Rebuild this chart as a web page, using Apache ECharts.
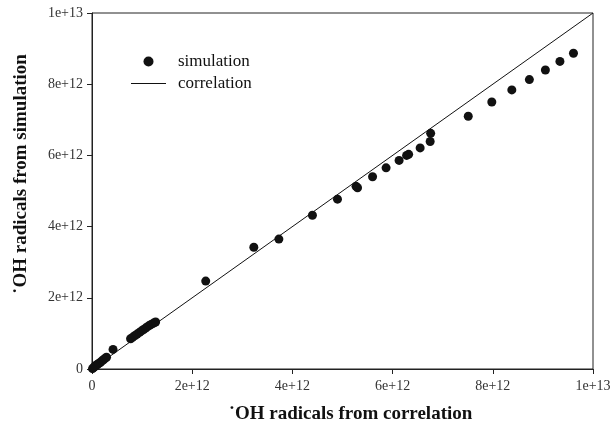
<!DOCTYPE html>
<html>
<head>
<meta charset="utf-8">
<script src="https://cdn.jsdelivr.net/npm/echarts@6/dist/echarts.min.js"></script>
<style>
  html, body { margin: 0; padding: 0; background: #fff; }
  #chart { width: 616px; height: 429px; }
</style>
</head>
<body>
<div id="chart"></div>
<script>
// values in units of 1e12 radicals
var SCALE = 1e12;
var simX = [0.01, 0.03, 0.05, 0.07, 0.09, 0.11, 0.14, 0.17, 0.20, 0.23, 0.26, 0.29,
            0.42,
            0.77, 0.81, 0.86, 0.90, 0.95, 0.99, 1.03, 1.07, 1.11, 1.15, 1.19, 1.23, 1.27,
            2.27, 3.23, 3.73, 4.40, 4.90, 5.27, 5.30, 5.60, 5.87, 6.13, 6.28, 6.32,
            6.55, 6.75, 6.76, 7.51, 7.98, 8.38, 8.73, 9.05, 9.34, 9.61];
var simY = [0.01, 0.04, 0.06, 0.09, 0.11, 0.13, 0.16, 0.19, 0.23, 0.26, 0.30, 0.33,
            0.55,
            0.85, 0.89, 0.94, 0.98, 1.03, 1.07, 1.11, 1.15, 1.19, 1.23, 1.26, 1.29, 1.32,
            2.47, 3.42, 3.65, 4.32, 4.77, 5.13, 5.09, 5.40, 5.65, 5.86, 6.00, 6.03,
            6.21, 6.39, 6.62, 7.10, 7.50, 7.84, 8.13, 8.40, 8.64, 8.87];
var corrX = [0, 10];
var corrY = [0, 10];
var xTicks = [0, 2, 4, 6, 8, 10];
var yTicks = [0, 2, 4, 6, 8, 10];

function pairs(xs, ys) {
    return xs.map(function (x, i) { return [x * SCALE, ys[i] * SCALE]; });
}
function tickLabel(v) {
    return v === 0 ? '0' : v.toExponential();
}

var font = 'Liberation Serif';
var chart = echarts.init(document.getElementById('chart'));
var option = {
    backgroundColor: '#fff',
    animation: false,
    grid: {
        left: 92, top: 13, width: 501, height: 359,
        show: true, borderColor: '#222', borderWidth: 1, backgroundColor: 'transparent'
    },
    legend: {
        orient: 'vertical',
        left: 131, top: 53, padding: 0,
        itemWidth: 35, itemHeight: 10, itemGap: 5,
        textStyle: { fontFamily: font, fontSize: 17, color: '#111', padding: [0, 0, 0, 7] },
        data: [
            { name: 'simulation', icon: 'circle', itemStyle: { color: '#111' } },
            { name: 'correlation', icon: 'path://M0,0 L35,0 L35,1 L0,1 Z', itemStyle: { color: '#111' } }
        ]
    },
    xAxis: {
        type: 'value',
        min: xTicks[0] * SCALE, max: xTicks[xTicks.length - 1] * SCALE, interval: 2 * SCALE,
        name: '\u02D9OH radicals from correlation',
        nameLocation: 'middle', nameGap: 36,
        nameTextStyle: { fontFamily: font, fontSize: 19, fontWeight: 'bold', color: '#111', padding: [0, 0, 0, 16] },
        axisLine: { lineStyle: { color: '#222', width: 1 } },
        axisTick: { inside: false, length: 5, lineStyle: { color: '#222' } },
        axisLabel: { fontFamily: font, fontSize: 14, color: '#333', margin: 10, formatter: tickLabel },
        splitLine: { show: false }
    },
    yAxis: {
        type: 'value',
        min: yTicks[0] * SCALE, max: yTicks[yTicks.length - 1] * SCALE, interval: 2 * SCALE,
        name: '\u02D9OH radicals from simulation',
        nameLocation: 'middle', nameGap: 61,
        nameTextStyle: { fontFamily: font, fontSize: 19, fontWeight: 'bold', color: '#111', padding: [0, 0, 0, 34] },
        axisLine: { lineStyle: { color: '#222', width: 1 } },
        axisTick: { inside: false, length: 5, lineStyle: { color: '#222' } },
        axisLabel: { fontFamily: font, fontSize: 14, color: '#333', margin: 9, formatter: tickLabel },
        splitLine: { show: false }
    },
    series: [
        {
            name: 'correlation',
            type: 'line',
            data: pairs(corrX, corrY),
            showSymbol: false,
            lineStyle: { color: '#111', width: 1 },
            z: 1
        },
        {
            name: 'simulation',
            type: 'scatter',
            data: pairs(simX, simY),
            symbol: 'circle',
            symbolSize: 9,
            itemStyle: { color: '#111', opacity: 1 },
            z: 2
        }
    ]
};
chart.setOption(option);
</script>
</body>
</html>
